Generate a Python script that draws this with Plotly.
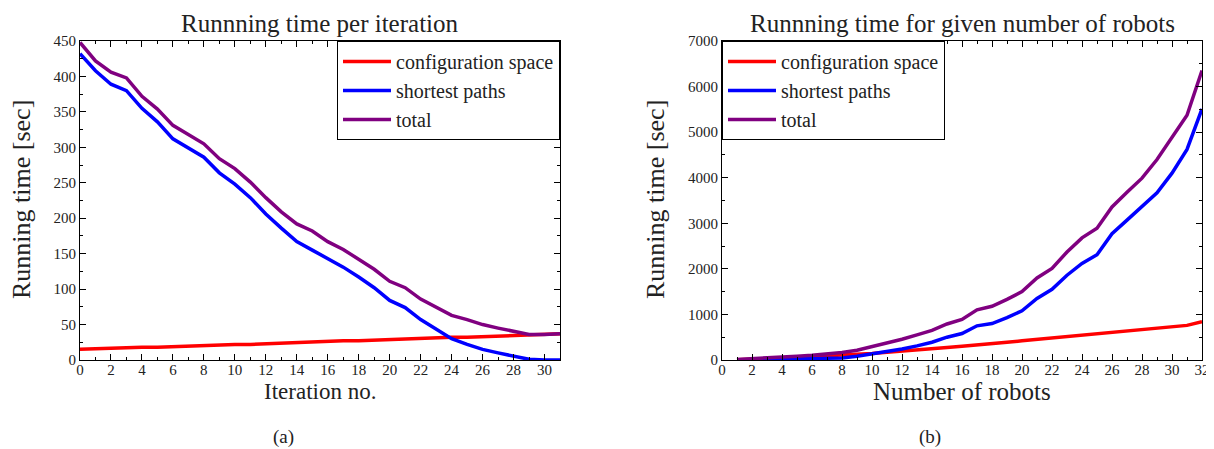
import plotly.graph_objects as go

# ---- data: left panel (per iteration) ----
iterations = list(range(0, 32))
cfg_iter = [15, 16, 16, 17, 18, 18, 19, 20, 20, 21, 22, 22, 23, 24, 24, 25,
            26, 27, 27, 28, 29, 29, 30, 31, 32, 32, 33, 34, 35, 35, 36, 37]
sp_iter = [432, 408, 389, 380, 355, 336, 312, 299, 286, 264, 248, 229, 206, 186, 167, 155,
           143, 131, 117, 102, 84, 74, 57, 43, 30, 22, 15, 10, 6, 1, 0, 0]
tot_iter = [448, 422, 406, 398, 372, 354, 331, 318, 305, 284, 270, 251, 229, 209, 192, 182,
            167, 156, 142, 128, 111, 102, 86, 75, 63, 57, 50, 45, 41, 36, 36, 37]

# ---- data: right panel (per number of robots) ----
robots = list(range(1, 33))
cfg_rob = [5, 15, 30, 45, 60, 75, 90, 105, 125, 145, 170, 200, 225, 250, 275, 300,
           335, 360, 390, 420, 450, 480, 510, 540, 570, 600, 635, 670, 700, 730, 760, 840]
sp_rob = [0, 5, 10, 15, 20, 25, 30, 45, 80, 130, 180, 240, 310, 390, 500, 580,
          750, 800, 930, 1080, 1350, 1550, 1860, 2120, 2310, 2770, 3070, 3370, 3670, 4100, 4620, 5510]
tot_rob = [10, 25, 45, 65, 85, 105, 130, 165, 215, 290, 365, 455, 550, 650, 790, 890,
           1100, 1180, 1330, 1500, 1800, 2010, 2370, 2680, 2890, 3360, 3680, 3990, 4400, 4880, 5370, 6350]

series_names = ["configuration space", "shortest paths", "total"]
series_colors = ["#ff0000", "#0000ff", "#800080"]

W, H = 1214, 449
OFF = 8  # page body margin
FONT = "'Liberation Serif', 'DejaVu Serif', serif"

def px_x(p):
    return (p - OFF) / W

def px_y(p):
    return (H - (p - OFF)) / H

fig = go.Figure()

for name, col, ys in zip(series_names, series_colors, [cfg_iter, sp_iter, tot_iter]):
    fig.add_trace(go.Scatter(x=iterations, y=ys, mode="lines", name=name,
                             line=dict(color=col, width=3.5), xaxis="x", yaxis="y",
                             legend="legend"))
for name, col, ys in zip(series_names, series_colors, [cfg_rob, sp_rob, tot_rob]):
    fig.add_trace(go.Scatter(x=robots, y=ys, mode="lines", name=name,
                             line=dict(color=col, width=3.5), xaxis="x2", yaxis="y2",
                             legend="legend2"))

axis_common = dict(
    showline=True, linecolor="black", linewidth=1, mirror="allticks",
    ticks="inside", ticklen=6, tickcolor="black", tickwidth=1,
    showgrid=False, zeroline=False, automargin=False,
    tickfont=dict(family=FONT, size=15, color="#222"),
)
xaxis_extra = dict(ticklabelstandoff=-4)

left_dom = [px_x(80), px_x(560)]
right_dom = [px_x(722), px_x(1202)]
y_dom = [px_y(360), px_y(41)]

legend_common = dict(bordercolor="black", borderwidth=1, bgcolor="white",
                     font=dict(family=FONT, size=20, color="#222"), traceorder="normal",
                     tracegroupgap=0, itemwidth=48)

fig.update_layout(
    template="none",
    width=W, height=H,
    margin=dict(l=0, r=0, t=0, b=0, autoexpand=False),
    paper_bgcolor="white", plot_bgcolor="white",
    font=dict(family=FONT, color="#222"),
    xaxis=dict(domain=left_dom, range=[0, 31], dtick=2, tick0=0, anchor="y",
               minor=dict(dtick=1, ticks="inside", ticklen=3, tickcolor="black"),
               **axis_common, **xaxis_extra),
    yaxis=dict(domain=y_dom, range=[0, 450], dtick=50, anchor="x",
               minor=dict(dtick=25, ticks="inside", ticklen=3, tickcolor="black"),
               **axis_common),
    xaxis2=dict(domain=right_dom, range=[0, 32], dtick=2, tick0=0, anchor="y2",
                minor=dict(dtick=1, ticks="inside", ticklen=3, tickcolor="black"),
                **axis_common, **xaxis_extra),
    yaxis2=dict(domain=y_dom, range=[0, 7000], dtick=1000, anchor="x2",
                minor=dict(dtick=500, ticks="inside", ticklen=3, tickcolor="black"),
                **axis_common),
    legend=dict(x=px_x(560), y=px_y(41), xanchor="right", yanchor="top", **legend_common),
    legend2=dict(x=px_x(722), y=px_y(41), xanchor="left", yanchor="top", **legend_common),
    showlegend=True,
)

ann = [
    dict(text="Runnning time per iteration", x=px_x(320), y=1.0, size=25, angle=0, ya="top"),
    dict(text="Runnning time for given number of robots", x=px_x(962), y=1.0, size=25, angle=0, ya="top"),
    dict(text="Running time [sec]", x=px_x(22), y=px_y(200), size=26, angle=-90, ya="middle"),
    dict(text="Running time [sec]", x=px_x(656), y=px_y(200), size=26, angle=-90, ya="middle"),
    dict(text="Iteration no.", x=px_x(320), y=px_y(391), size=23, angle=0, ya="middle"),
    dict(text="Number of robots", x=px_x(962), y=px_y(391), size=25, angle=0, ya="middle"),
    dict(text="(a)", x=px_x(283), y=px_y(437), size=19, angle=0, ya="middle"),
    dict(text="(b)", x=px_x(930), y=px_y(437), size=19, angle=0, ya="middle"),
]
for a in ann:
    fig.add_annotation(text=a["text"], x=a["x"], y=a["y"], xref="paper", yref="paper",
                       xanchor="center", yanchor=a["ya"], showarrow=False,
                       textangle=a["angle"],
                       font=dict(family=FONT, size=a["size"], color="#222"))

fig.write_html("out.html")
